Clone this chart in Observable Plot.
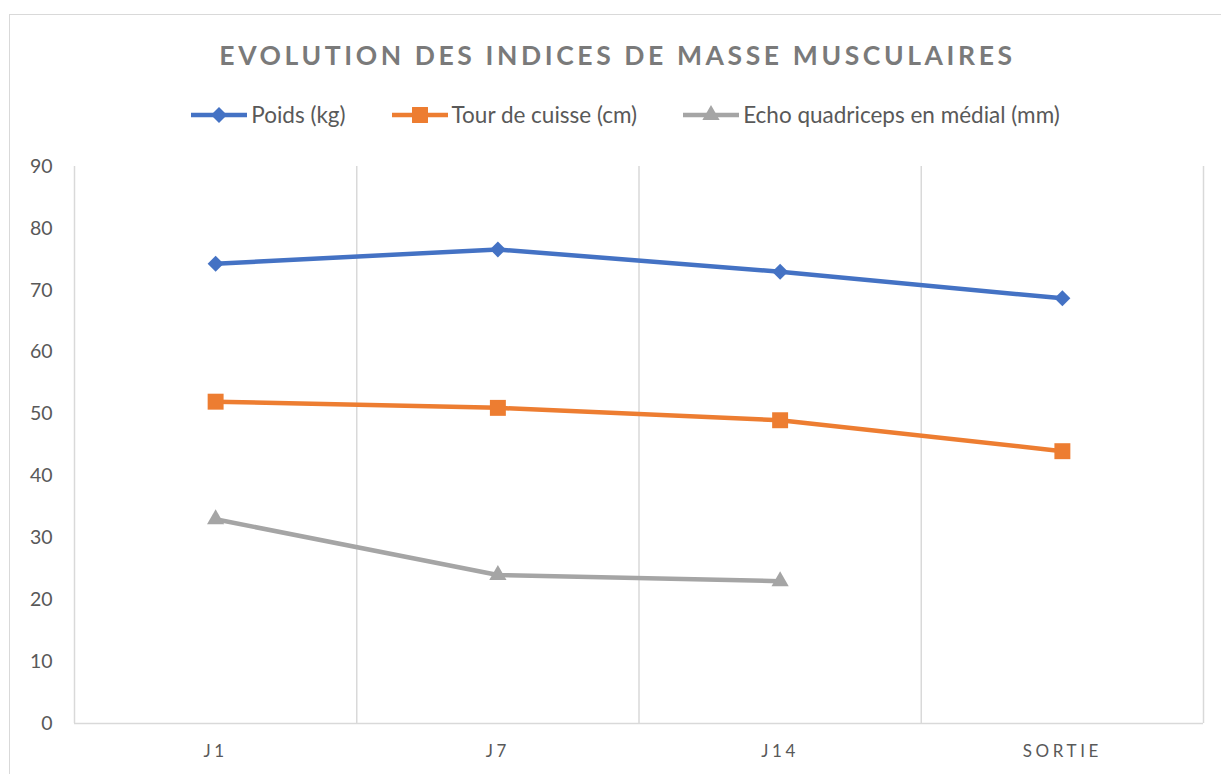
<!DOCTYPE html>
<html>
<head>
<meta charset="utf-8">
<script src="https://cdn.jsdelivr.net/npm/d3@7"></script>
<script src="https://cdn.jsdelivr.net/npm/@observablehq/plot@0.6"></script>
<style>
  html, body { margin: 0; padding: 0; background: #fff; overflow: hidden; width: 1221px; height: 774px; }
  #frame { position: absolute; left: 9px; top: 14px; width: 1400px; height: 900px; border: 1.5px solid #d9d9d9; }
  #title { position: absolute; left: 0; top: 39px; width: 1221px; text-align: center;
    font-family: Lato, "Open Sans", sans-serif; font-weight: bold; font-size: 26.5px; letter-spacing: 3.6px; color: #7a7a7a; padding-left: 14px; box-sizing: border-box; }
  #legend { position: absolute; left: 0; top: 101px; width: 1221px; display: flex; justify-content: center; gap: 46px;
    font-family: Lato, "Open Sans", sans-serif; font-size: 22.5px; color: #595959; padding-left: 30px; box-sizing: border-box; }
  .item { display: flex; align-items: center; gap: 4px; }
  #chart { position: absolute; left: 0; top: 140px; }
  [aria-label="x-axis tick label"] text { letter-spacing: 3.6px; }
</style>
</head>
<body>
<div id="frame"></div>
<div id="title">EVOLUTION DES INDICES DE MASSE MUSCULAIRES</div>
<div id="legend"></div>
<div id="chart"></div>
<script>
const categories = ["J1", "J7", "J14", "SORTIE"];
const poids = [74.3, 76.6, 73.0, 68.7];
const tourCuisse = [52, 51, 49, 44];
const echo = [33, 24, 23];
const seriesNames = ["Poids (kg)", "Tour de cuisse (cm)", "Echo quadriceps en médial (mm)"];
const seriesColors = ["#4472C4", "#ED7D31", "#A5A5A5"];
const seriesSymbols = ["diamond2", "square", "triangle"];
const seriesR = [7.2, 9, 6.4];
const yTicks = [0, 10, 20, 30, 40, 50, 60, 70, 80, 90];

const seriesValues = [poids, tourCuisse, echo];
const rows = [];
seriesValues.forEach((vals, s) => vals.forEach((v, i) => rows.push({series: seriesNames[s], cat: categories[i], idx: i + 0.5, value: v})));

const marks = [
  Plot.ruleX(d3.range(0, categories.length + 1), {y1: 0, y2: 90, stroke: "#d9d9d9", strokeWidth: 1.5}),
  Plot.ruleY([0], {stroke: "#d9d9d9", strokeWidth: 1.5}),
  Plot.axisY({ticks: yTicks, tickSize: 0, tickPadding: 22, fontSize: 19.5, fill: "#595959", label: null}),
  Plot.axisX({ticks: categories.map((c, i) => i + 0.5), tickFormat: d => categories[Math.floor(d)], tickSize: 0, tickPadding: 21, fontSize: 17, fill: "#595959", label: null})
];
seriesNames.forEach((name, s) => {
  const data = rows.filter(d => d.series === name);
  marks.push(Plot.line(data, {x: "idx", y: "value", stroke: seriesColors[s], strokeWidth: 4.5}));
  marks.push(Plot.dot(data, {x: "idx", y: "value", fill: seriesColors[s], stroke: "none", symbol: () => seriesSymbols[s], r: seriesR[s]}));
});

const chart = Plot.plot({
  width: 1221,
  height: 634,
  marginTop: 26,
  marginBottom: 51,
  marginLeft: 74,
  marginRight: 18,
  style: {fontFamily: "Lato, 'Open Sans', sans-serif", background: "transparent"},
  x: {type: "linear", domain: [0, categories.length], axis: null},
  y: {domain: [0, 90], axis: null},
  symbol: {type: "identity"},
  marks
});
document.getElementById("chart").appendChild(chart);

// legend
const legend = document.getElementById("legend");
seriesNames.forEach((name, s) => {
  const item = document.createElement("div");
  item.className = "item";
  const svg = d3.create("svg").attr("width", 56).attr("height", 20);
  svg.append("line").attr("x1", 0).attr("x2", 56).attr("y1", 10).attr("y2", 10).attr("stroke", seriesColors[s]).attr("stroke-width", 4.5);
  svg.append("path").attr("transform", "translate(28,10)").attr("fill", seriesColors[s])
    .attr("d", d3.symbol(s === 0 ? d3.symbolDiamond2 : s === 1 ? d3.symbolSquare : d3.symbolTriangle, Math.PI * seriesR[s] * seriesR[s])());
  item.appendChild(svg.node());
  const t = document.createElement("span");
  t.textContent = name;
  item.appendChild(t);
  legend.appendChild(item);
});
</script>
</body>
</html>
